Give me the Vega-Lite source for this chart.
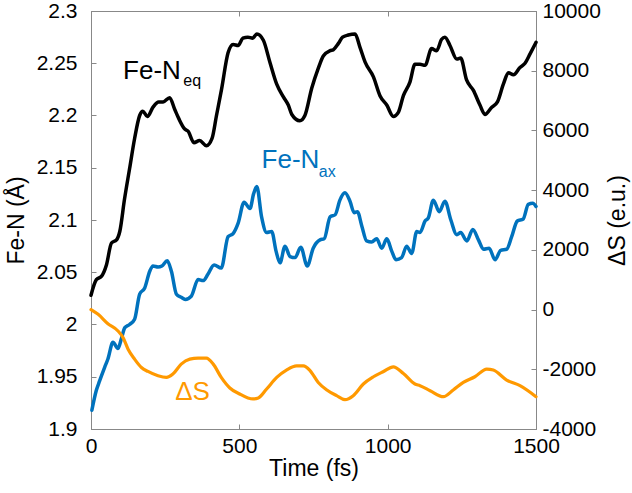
{
  "$schema": "https://vega.github.io/schema/vega-lite/v6.json",
  "width": 445,
  "height": 418,
  "autosize": {"type": "none"},
  "padding": {"left": 91, "top": 11, "right": 96, "bottom": 64},
  "background": "white",
  "config": {
    "view": {"stroke": "#888888", "strokeWidth": 1},
    "axis": {
      "domainColor": "#888888", "tickColor": "#888888", "grid": false,
      "labelFont": "Liberation Sans", "labelFontSize": 21, "labelColor": "#000000",
      "titleFont": "Liberation Sans", "titleFontSize": 23, "titleFontWeight": "normal", "titleColor": "#000000",
      "tickSize": -5, "domainWidth": 1, "tickWidth": 1
    },
    "text": {"font": "Liberation Sans"}
  },
  "datasets": {
    "bond": [
      {"t":0,"v":2.028,"series":"eq"},{"t":18,"v":2.043,"series":"eq"},{"t":35,"v":2.046,"series":"eq"},{"t":52,"v":2.057,"series":"eq"},
      {"t":69,"v":2.078,"series":"eq"},{"t":86,"v":2.081,"series":"eq"},{"t":97,"v":2.089,"series":"eq"},{"t":113,"v":2.12,"series":"eq"},
      {"t":130,"v":2.149,"series":"eq"},{"t":147,"v":2.178,"series":"eq"},{"t":164,"v":2.2,"series":"eq"},{"t":175,"v":2.204,"series":"eq"},
      {"t":190,"v":2.199,"series":"eq"},{"t":209,"v":2.208,"series":"eq"},{"t":228,"v":2.213,"series":"eq"},{"t":243,"v":2.213,"series":"eq"},
      {"t":265,"v":2.217,"series":"eq"},{"t":282,"v":2.206,"series":"eq"},{"t":296,"v":2.197,"series":"eq"},{"t":316,"v":2.187,"series":"eq"},
      {"t":327,"v":2.185,"series":"eq"},{"t":347,"v":2.174,"series":"eq"},{"t":366,"v":2.176,"series":"eq"},{"t":389,"v":2.171,"series":"eq"},
      {"t":408,"v":2.178,"series":"eq"},{"t":423,"v":2.2,"series":"eq"},{"t":440,"v":2.225,"series":"eq"},{"t":462,"v":2.26,"series":"eq"},
      {"t":479,"v":2.268,"series":"eq"},{"t":496,"v":2.267,"series":"eq"},{"t":512,"v":2.274,"series":"eq"},{"t":529,"v":2.275,"series":"eq"},
      {"t":545,"v":2.274,"series":"eq"},{"t":559,"v":2.278,"series":"eq"},{"t":581,"v":2.272,"series":"eq"},{"t":603,"v":2.251,"series":"eq"},
      {"t":626,"v":2.23,"series":"eq"},{"t":648,"v":2.218,"series":"eq"},{"t":665,"v":2.21,"series":"eq"},{"t":677,"v":2.201,"series":"eq"},
      {"t":704,"v":2.195,"series":"eq"},{"t":721,"v":2.2,"series":"eq"},{"t":744,"v":2.226,"series":"eq"},{"t":766,"v":2.245,"series":"eq"},
      {"t":783,"v":2.257,"series":"eq"},{"t":806,"v":2.262,"series":"eq"},{"t":817,"v":2.263,"series":"eq"},{"t":834,"v":2.269,"series":"eq"},
      {"t":848,"v":2.275,"series":"eq"},{"t":867,"v":2.277,"series":"eq"},{"t":890,"v":2.278,"series":"eq"},{"t":907,"v":2.265,"series":"eq"},
      {"t":924,"v":2.251,"series":"eq"},{"t":952,"v":2.237,"series":"eq"},{"t":974,"v":2.219,"series":"eq"},{"t":997,"v":2.21,"series":"eq"},
      {"t":1019,"v":2.199,"series":"eq"},{"t":1036,"v":2.203,"series":"eq"},{"t":1053,"v":2.219,"series":"eq"},{"t":1075,"v":2.232,"series":"eq"},
      {"t":1092,"v":2.249,"series":"eq"},{"t":1109,"v":2.249,"series":"eq"},{"t":1126,"v":2.248,"series":"eq"},{"t":1148,"v":2.264,"series":"eq"},
      {"t":1165,"v":2.262,"series":"eq"},{"t":1182,"v":2.273,"series":"eq"},{"t":1193,"v":2.275,"series":"eq"},{"t":1210,"v":2.267,"series":"eq"},
      {"t":1233,"v":2.254,"series":"eq"},{"t":1246,"v":2.255,"series":"eq"},{"t":1266,"v":2.234,"series":"eq"},{"t":1289,"v":2.224,"series":"eq"},
      {"t":1311,"v":2.21,"series":"eq"},{"t":1328,"v":2.201,"series":"eq"},{"t":1351,"v":2.208,"series":"eq"},{"t":1370,"v":2.213,"series":"eq"},
      {"t":1390,"v":2.23,"series":"eq"},{"t":1407,"v":2.241,"series":"eq"},{"t":1424,"v":2.239,"series":"eq"},{"t":1446,"v":2.246,"series":"eq"},
      {"t":1463,"v":2.25,"series":"eq"},{"t":1480,"v":2.259,"series":"eq"},{"t":1500,"v":2.27,"series":"eq"},

      {"t":3,"v":1.918,"series":"ax"},{"t":18,"v":1.937,"series":"ax"},{"t":29,"v":1.946,"series":"ax"},{"t":46,"v":1.959,"series":"ax"},
      {"t":57,"v":1.967,"series":"ax"},{"t":74,"v":1.983,"series":"ax"},{"t":91,"v":1.977,"series":"ax"},{"t":102,"v":1.986,"series":"ax"},
      {"t":114,"v":1.997,"series":"ax"},{"t":130,"v":2.0,"series":"ax"},{"t":147,"v":2.005,"series":"ax"},{"t":164,"v":2.029,"series":"ax"},
      {"t":181,"v":2.035,"series":"ax"},{"t":198,"v":2.051,"series":"ax"},{"t":209,"v":2.056,"series":"ax"},{"t":226,"v":2.055,"series":"ax"},
      {"t":239,"v":2.056,"series":"ax"},{"t":257,"v":2.061,"series":"ax"},{"t":271,"v":2.051,"series":"ax"},{"t":288,"v":2.029,"series":"ax"},
      {"t":304,"v":2.026,"series":"ax"},{"t":318,"v":2.024,"series":"ax"},{"t":338,"v":2.027,"series":"ax"},{"t":361,"v":2.043,"series":"ax"},
      {"t":378,"v":2.042,"series":"ax"},{"t":394,"v":2.048,"series":"ax"},{"t":415,"v":2.057,"series":"ax"},{"t":439,"v":2.054,"series":"ax"},
      {"t":462,"v":2.084,"series":"ax"},{"t":479,"v":2.087,"series":"ax"},{"t":496,"v":2.097,"series":"ax"},{"t":516,"v":2.117,"series":"ax"},
      {"t":536,"v":2.111,"series":"ax"},{"t":548,"v":2.125,"series":"ax"},{"t":559,"v":2.132,"series":"ax"},{"t":575,"v":2.103,"series":"ax"},
      {"t":592,"v":2.088,"series":"ax"},{"t":609,"v":2.089,"series":"ax"},{"t":624,"v":2.07,"series":"ax"},{"t":637,"v":2.059,"series":"ax"},
      {"t":654,"v":2.075,"series":"ax"},{"t":671,"v":2.065,"series":"ax"},{"t":688,"v":2.064,"series":"ax"},{"t":707,"v":2.074,"series":"ax"},
      {"t":729,"v":2.056,"series":"ax"},{"t":749,"v":2.073,"series":"ax"},{"t":772,"v":2.081,"series":"ax"},{"t":786,"v":2.082,"series":"ax"},
      {"t":806,"v":2.103,"series":"ax"},{"t":823,"v":2.105,"series":"ax"},{"t":839,"v":2.119,"series":"ax"},{"t":856,"v":2.126,"series":"ax"},
      {"t":873,"v":2.118,"series":"ax"},{"t":887,"v":2.107,"series":"ax"},{"t":898,"v":2.108,"series":"ax"},{"t":913,"v":2.094,"series":"ax"},
      {"t":929,"v":2.08,"series":"ax"},{"t":946,"v":2.079,"series":"ax"},{"t":963,"v":2.082,"series":"ax"},{"t":980,"v":2.073,"series":"ax"},
      {"t":997,"v":2.082,"series":"ax"},{"t":1014,"v":2.07,"series":"ax"},{"t":1028,"v":2.062,"series":"ax"},{"t":1047,"v":2.064,"series":"ax"},
      {"t":1064,"v":2.075,"series":"ax"},{"t":1081,"v":2.068,"series":"ax"},{"t":1098,"v":2.089,"series":"ax"},{"t":1109,"v":2.088,"series":"ax"},
      {"t":1126,"v":2.099,"series":"ax"},{"t":1137,"v":2.102,"series":"ax"},{"t":1154,"v":2.119,"series":"ax"},{"t":1174,"v":2.108,"series":"ax"},
      {"t":1193,"v":2.118,"series":"ax"},{"t":1213,"v":2.1,"series":"ax"},{"t":1233,"v":2.086,"series":"ax"},{"t":1246,"v":2.088,"series":"ax"},
      {"t":1267,"v":2.08,"series":"ax"},{"t":1287,"v":2.091,"series":"ax"},{"t":1306,"v":2.081,"series":"ax"},{"t":1323,"v":2.072,"series":"ax"},
      {"t":1342,"v":2.073,"series":"ax"},{"t":1362,"v":2.062,"series":"ax"},{"t":1381,"v":2.071,"series":"ax"},{"t":1401,"v":2.072,"series":"ax"},
      {"t":1418,"v":2.084,"series":"ax"},{"t":1437,"v":2.099,"series":"ax"},{"t":1457,"v":2.101,"series":"ax"},{"t":1474,"v":2.115,"series":"ax"},
      {"t":1489,"v":2.116,"series":"ax"},{"t":1500,"v":2.113,"series":"ax"}
    ],
    "entropy": [
      {"t":0,"s":0},{"t":24,"s":-160},{"t":57,"s":-473},{"t":91,"s":-717},{"t":108,"s":-940},{"t":125,"s":-1327},
      {"t":147,"s":-1660},{"t":170,"s":-1940},{"t":192,"s":-2073},{"t":226,"s":-2217},{"t":254,"s":-2273},{"t":276,"s":-2160},
      {"t":304,"s":-1827},{"t":333,"s":-1660},{"t":361,"s":-1627},{"t":389,"s":-1627},{"t":412,"s":-1827},{"t":439,"s":-2273},
      {"t":468,"s":-2627},{"t":501,"s":-2827},{"t":529,"s":-2960},{"t":546,"s":-2993},{"t":564,"s":-2960},{"t":592,"s":-2660},
      {"t":626,"s":-2273},{"t":660,"s":-2017},{"t":693,"s":-1883},{"t":716,"s":-1883},{"t":739,"s":-2050},{"t":766,"s":-2440},
      {"t":795,"s":-2693},{"t":828,"s":-2883},{"t":856,"s":-3017},{"t":884,"s":-2883},{"t":918,"s":-2493},{"t":952,"s":-2250},
      {"t":986,"s":-2073},{"t":1019,"s":-1917},{"t":1053,"s":-2140},{"t":1092,"s":-2493},{"t":1109,"s":-2550},{"t":1143,"s":-2717},
      {"t":1188,"s":-2917},{"t":1221,"s":-2693},{"t":1255,"s":-2440},{"t":1294,"s":-2250},{"t":1334,"s":-1993},{"t":1356,"s":-2027},
      {"t":1401,"s":-2360},{"t":1446,"s":-2550},{"t":1500,"s":-2917}
    ],
    "labels": [
      {"t":108,"v":2.235,"text":"Fe-N","series":"eq"},
      {"t":575,"v":2.1494,"text":"Fe-N","series":"ax"},
      {"t":284,"v":1.9273,"text":"ΔS","series":"dS"}
    ],
    "subscripts": [
      {"t":311,"v":2.228,"text":"eq","series":"eq"},
      {"t":768,"v":2.1415,"text":"ax","series":"ax"}
    ]
  },
  "layer": [
    {
      "encoding": {
        "x": {"field": "t", "type": "quantitative",
          "scale": {"domain": [0, 1500], "nice": false, "zero": false},
          "axis": {"values": [0, 500, 1000, 1500], "title": "Time (fs)", "labelExpr": "'' + datum.value",
            "labelPadding": 11, "titlePadding": 1, "labelFlush": false}},
        "y": {"field": "v", "type": "quantitative",
          "scale": {"domain": [1.9, 2.3], "nice": false, "zero": false},
          "axis": {"values": [1.9, 1.95, 2, 2.05, 2.1, 2.15, 2.2, 2.25, 2.3], "title": "Fe-N (Å)",
            "labelExpr": "'' + datum.value", "labelPadding": 19, "titlePadding": 8}}
      },
      "layer": [
        {
          "data": {"name": "bond"},
          "mark": {"type": "line", "strokeWidth": 3.5, "interpolate": "monotone", "strokeJoin": "round", "strokeCap": "round"},
          "encoding": {
            "color": {"field": "series", "type": "nominal",
              "scale": {"domain": ["eq", "ax", "dS"], "range": ["#000000", "#0072BD", "#FF9900"]}, "legend": null}
          }
        },
        {
          "data": {"name": "labels"},
          "mark": {"type": "text", "fontSize": 26, "align": "left", "baseline": "alphabetic"},
          "encoding": {
            "text": {"field": "text"},
            "color": {"field": "series", "type": "nominal", "legend": null}
          }
        },
        {
          "data": {"name": "subscripts"},
          "mark": {"type": "text", "fontSize": 16, "align": "left", "baseline": "alphabetic"},
          "encoding": {
            "text": {"field": "text"},
            "color": {"field": "series", "type": "nominal", "legend": null}
          }
        }
      ]
    },
    {
      "data": {"name": "entropy"},
      "mark": {"type": "line", "strokeWidth": 3.2, "interpolate": "monotone", "color": "#FF9900", "strokeJoin": "round", "strokeCap": "round"},
      "encoding": {
        "x": {"field": "t", "type": "quantitative",
          "scale": {"domain": [0, 1500], "nice": false, "zero": false},
          "axis": {"orient": "top", "values": [0, 500, 1000, 1500], "labels": false, "title": null}},
        "y": {"field": "s", "type": "quantitative",
          "scale": {"domain": [-4000, 10000], "nice": false, "zero": false},
          "axis": {"orient": "right", "values": [-4000, -2000, 0, 2000, 4000, 6000, 8000, 10000], "title": "ΔS (e.u.)",
            "labelExpr": "'' + datum.value", "labelPadding": 11, "titlePadding": 6, "titleAngle": 270, "titleBaseline": "top"}}
      }
    }
  ],
  "resolve": {"scale": {"y": "independent"}, "axis": {"x": "independent"}}
}
